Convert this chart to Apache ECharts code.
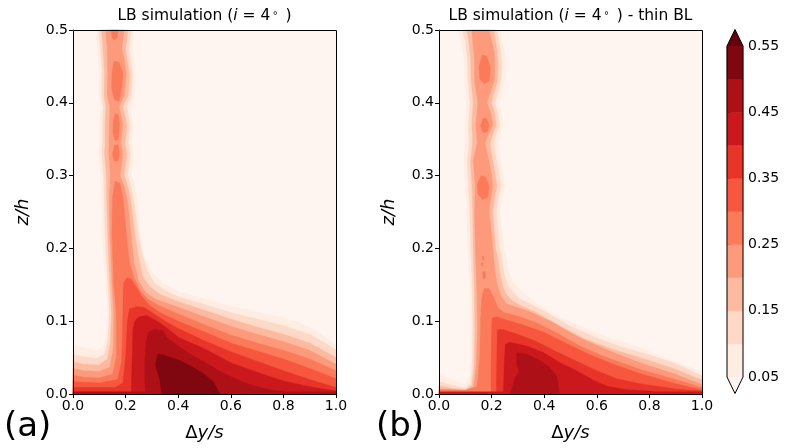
<!DOCTYPE html>
<html><head><meta charset="utf-8">
<script src="https://cdn.jsdelivr.net/npm/echarts@6/dist/echarts.min.js"></script>
<style>html,body{margin:0;padding:0;background:#fff}#c{width:792px;height:448px}</style>
</head><body><div id="c"></div>
<script>
// contour levels (colorbar boundaries)
const levels = [0.05, 0.10, 0.15, 0.20, 0.25, 0.30, 0.35, 0.40, 0.45, 0.50, 0.55];
const cbTicks = ['0.05', '0.15', '0.25', '0.35', '0.45', '0.55'];
const xTicks = ['0.0', '0.2', '0.4', '0.6', '0.8', '1.0'];
const yTicks = ['0.0', '0.1', '0.2', '0.3', '0.4', '0.5'];
const titleA = 'LB simulation ({i|i} = 4{s|∘} )';
const titleB = 'LB simulation ({i|i} = 4{s|∘} ) - thin BL';

// ---- Panel (a): regions where value >= level k, as [Δy/s, z/h] outlines
const aL1 = [[0,0],[1,0],[1,0.066],[0.97,0.076],[0.93,0.086],[0.87,0.097],[0.8,0.105],[0.7,0.113],[0.6,0.121],[0.5,0.131],[0.4,0.141],[0.34,0.152],[0.3,0.168],[0.27,0.19],[0.255,0.22],[0.25,0.25],[0.243,0.27],[0.235,0.29],[0.222,0.30],[0.228,0.315],[0.23,0.33],[0.224,0.345],[0.228,0.36],[0.228,0.37],[0.22,0.395],[0.235,0.41],[0.238,0.44],[0.232,0.46],[0.226,0.475],[0.232,0.5],[0.088,0.5],[0.092,0.475],[0.1,0.44],[0.098,0.41],[0.105,0.395],[0.1,0.37],[0.1,0.345],[0.098,0.33],[0.105,0.30],[0.108,0.27],[0.112,0.22],[0.117,0.18],[0.125,0.15],[0.13,0.11],[0.125,0.08],[0.115,0.065],[0.09,0.06],[0.05,0.063],[0,0.067]];
const aL2 = [[0,0],[1,0],[1,0.06],[0.95,0.072],[0.9,0.082],[0.8,0.094],[0.7,0.103],[0.6,0.112],[0.5,0.123],[0.4,0.134],[0.35,0.142],[0.31,0.152],[0.285,0.168],[0.265,0.19],[0.248,0.22],[0.238,0.25],[0.23,0.27],[0.22,0.285],[0.208,0.3],[0.213,0.315],[0.218,0.33],[0.21,0.345],[0.214,0.36],[0.216,0.37],[0.205,0.395],[0.222,0.41],[0.226,0.44],[0.218,0.46],[0.212,0.475],[0.222,0.5],[0.098,0.5],[0.104,0.475],[0.11,0.44],[0.108,0.41],[0.115,0.395],[0.112,0.37],[0.112,0.345],[0.11,0.33],[0.116,0.3],[0.118,0.27],[0.122,0.22],[0.127,0.18],[0.133,0.15],[0.138,0.11],[0.133,0.075],[0.12,0.055],[0.09,0.049],[0.04,0.051],[0,0.054]];
const aL3 = [[0,0],[1,0],[1,0.05],[0.9,0.07],[0.8,0.082],[0.7,0.092],[0.6,0.103],[0.5,0.115],[0.4,0.127],[0.33,0.137],[0.29,0.148],[0.265,0.162],[0.248,0.19],[0.235,0.22],[0.225,0.25],[0.218,0.27],[0.208,0.285],[0.195,0.3],[0.2,0.315],[0.205,0.33],[0.198,0.345],[0.203,0.36],[0.205,0.37],[0.19,0.395],[0.21,0.41],[0.215,0.44],[0.205,0.46],[0.2,0.475],[0.21,0.5],[0.108,0.5],[0.114,0.475],[0.12,0.44],[0.118,0.41],[0.125,0.395],[0.122,0.37],[0.122,0.345],[0.12,0.33],[0.127,0.3],[0.128,0.27],[0.132,0.22],[0.136,0.18],[0.14,0.15],[0.146,0.11],[0.142,0.07],[0.13,0.048],[0.1,0.04],[0.04,0.041],[0,0.044]];
const aL4 = [[0,0],[1,0],[1,0.041],[0.9,0.06],[0.8,0.072],[0.7,0.082],[0.6,0.093],[0.5,0.106],[0.4,0.119],[0.31,0.131],[0.275,0.14],[0.25,0.155],[0.232,0.18],[0.22,0.22],[0.212,0.25],[0.205,0.27],[0.195,0.285],[0.178,0.3],[0.185,0.315],[0.19,0.33],[0.182,0.345],[0.187,0.36],[0.19,0.37],[0.175,0.395],[0.195,0.41],[0.203,0.44],[0.195,0.46],[0.185,0.475],[0.195,0.5],[0.124,0.5],[0.13,0.475],[0.132,0.44],[0.13,0.41],[0.14,0.395],[0.138,0.37],[0.137,0.345],[0.136,0.33],[0.142,0.3],[0.138,0.27],[0.14,0.22],[0.145,0.18],[0.148,0.15],[0.155,0.11],[0.152,0.06],[0.14,0.037],[0.1,0.031],[0.04,0.032],[0,0.035]];
const aL5 = [[0,0],[1,0],[1,0.032],[0.9,0.048],[0.8,0.06],[0.7,0.07],[0.6,0.081],[0.5,0.095],[0.4,0.11],[0.33,0.121],[0.285,0.13],[0.255,0.142],[0.232,0.16],[0.215,0.18],[0.205,0.21],[0.198,0.24],[0.19,0.27],[0.178,0.29],[0.16,0.292],[0.15,0.27],[0.148,0.22],[0.152,0.18],[0.155,0.15],[0.165,0.11],[0.165,0.05],[0.15,0.027],[0.1,0.022],[0.04,0.023],[0,0.026]];
const aL5blobA = [[0.145,0.5],[0.172,0.5],[0.168,0.49],[0.158,0.486],[0.148,0.49]];
const aL5blobB = [[0.155,0.457],[0.175,0.456],[0.19,0.44],[0.185,0.42],[0.175,0.402],[0.158,0.404],[0.147,0.42],[0.148,0.44]];
const aL5blobC = [[0.16,0.385],[0.172,0.384],[0.177,0.37],[0.172,0.35],[0.16,0.348],[0.152,0.36],[0.153,0.375]];
const aL5blobD = [[0.158,0.342],[0.172,0.342],[0.177,0.33],[0.17,0.32],[0.156,0.32],[0.15,0.33]];
const aL6 = [[0,0],[1,0],[1,0.021],[0.9,0.035],[0.8,0.048],[0.7,0.059],[0.6,0.07],[0.5,0.085],[0.4,0.1],[0.33,0.112],[0.29,0.122],[0.26,0.135],[0.235,0.15],[0.22,0.158],[0.205,0.16],[0.192,0.152],[0.19,0.12],[0.188,0.08],[0.185,0.045],[0.17,0.02],[0.1,0.015],[0,0.017]];
const aL7 = [[0,0],[1,0],[1,0.009],[0.9,0.02],[0.8,0.032],[0.7,0.045],[0.6,0.058],[0.5,0.073],[0.4,0.09],[0.35,0.1],[0.3,0.112],[0.27,0.119],[0.24,0.12],[0.215,0.117],[0.207,0.1],[0.2,0.05],[0.19,0.015],[0.16,0.009],[0,0.009]];
const aL8 = [[0.222,0],[1,0],[1,0.004],[0.9,0.01],[0.8,0.018],[0.7,0.03],[0.6,0.043],[0.5,0.062],[0.4,0.078],[0.36,0.09],[0.32,0.1],[0.28,0.108],[0.25,0.106],[0.235,0.1],[0.228,0.09],[0.225,0.05],[0.222,0.01]];
const aL9 = [[0.275,0],[0.85,0],[0.8,0.003],[0.75,0.006],[0.7,0.01],[0.65,0.016],[0.6,0.024],[0.55,0.033],[0.5,0.044],[0.45,0.054],[0.4,0.066],[0.36,0.077],[0.34,0.087],[0.31,0.089],[0.286,0.085],[0.278,0.07],[0.272,0.04]];
const aWall = [[0,0],[1,0],[1,0.003],[0,0.003]];
const aL10 = [[0.337,0],[0.56,0],[0.55,0.006],[0.535,0.016],[0.5,0.027],[0.45,0.038],[0.4,0.047],[0.35,0.053],[0.322,0.055],[0.313,0.04],[0.33,0.02]];

// ---- Panel (b)
const bL1 = [[0,0],[1,0],[1,0.03],[0.93,0.04],[0.85,0.052],[0.76,0.064],[0.65,0.077],[0.55,0.091],[0.45,0.108],[0.38,0.122],[0.333,0.135],[0.3,0.146],[0.28,0.155],[0.265,0.17],[0.255,0.19],[0.248,0.2],[0.24,0.225],[0.232,0.25],[0.24,0.27],[0.25,0.285],[0.245,0.3],[0.235,0.32],[0.228,0.335],[0.225,0.345],[0.235,0.36],[0.243,0.37],[0.238,0.385],[0.228,0.4],[0.24,0.415],[0.25,0.43],[0.255,0.45],[0.25,0.47],[0.24,0.485],[0.235,0.5],[0.07,0.5],[0.085,0.485],[0.095,0.46],[0.098,0.43],[0.105,0.4],[0.1,0.37],[0.1,0.345],[0.095,0.32],[0.1,0.285],[0.105,0.25],[0.11,0.2],[0.115,0.16],[0.118,0.13],[0.12,0.09],[0.12,0.05],[0.115,0.025],[0.1,0.013],[0.05,0.02],[0,0.027]];
const bL2 = [[0,0],[1,0],[1,0.025],[0.9,0.042],[0.8,0.054],[0.7,0.064],[0.6,0.077],[0.5,0.093],[0.41,0.112],[0.34,0.125],[0.308,0.13],[0.28,0.14],[0.262,0.15],[0.248,0.165],[0.238,0.19],[0.23,0.2],[0.224,0.225],[0.218,0.25],[0.226,0.27],[0.235,0.285],[0.23,0.3],[0.22,0.32],[0.213,0.335],[0.21,0.345],[0.22,0.36],[0.23,0.37],[0.225,0.385],[0.213,0.4],[0.225,0.415],[0.235,0.43],[0.24,0.45],[0.236,0.47],[0.228,0.485],[0.222,0.5],[0.088,0.5],[0.1,0.485],[0.108,0.46],[0.11,0.43],[0.118,0.4],[0.112,0.37],[0.115,0.345],[0.108,0.32],[0.112,0.285],[0.117,0.25],[0.12,0.2],[0.125,0.16],[0.127,0.13],[0.128,0.09],[0.127,0.04],[0.12,0.015],[0.1,0.008],[0.05,0.012],[0,0.017]];
const bL3 = [[0,0],[1,0],[1,0.019],[0.9,0.034],[0.764,0.05],[0.663,0.061],[0.561,0.075],[0.46,0.093],[0.371,0.112],[0.32,0.12],[0.283,0.127],[0.26,0.135],[0.245,0.145],[0.232,0.165],[0.222,0.19],[0.215,0.2],[0.21,0.225],[0.205,0.25],[0.212,0.27],[0.22,0.285],[0.215,0.3],[0.205,0.32],[0.198,0.335],[0.195,0.345],[0.207,0.36],[0.218,0.37],[0.212,0.385],[0.2,0.4],[0.21,0.415],[0.222,0.43],[0.225,0.45],[0.222,0.47],[0.215,0.485],[0.21,0.5],[0.105,0.5],[0.113,0.485],[0.12,0.46],[0.122,0.43],[0.13,0.4],[0.125,0.37],[0.128,0.345],[0.12,0.32],[0.125,0.285],[0.128,0.25],[0.13,0.2],[0.133,0.16],[0.135,0.13],[0.136,0.09],[0.134,0.04],[0.126,0.012],[0.1,0.006],[0.05,0.008],[0,0.011]];
const bL4 = [[0,0],[1,0],[1,0.013],[0.9,0.027],[0.764,0.043],[0.65,0.059],[0.536,0.077],[0.435,0.098],[0.346,0.113],[0.29,0.12],[0.255,0.124],[0.235,0.135],[0.222,0.15],[0.212,0.17],[0.205,0.2],[0.197,0.23],[0.19,0.25],[0.198,0.27],[0.205,0.285],[0.2,0.3],[0.19,0.32],[0.18,0.335],[0.175,0.345],[0.192,0.36],[0.205,0.37],[0.198,0.385],[0.182,0.4],[0.195,0.415],[0.21,0.43],[0.212,0.45],[0.21,0.47],[0.2,0.485],[0.19,0.5],[0.125,0.5],[0.128,0.485],[0.135,0.46],[0.135,0.43],[0.148,0.4],[0.14,0.37],[0.145,0.345],[0.13,0.32],[0.138,0.285],[0.135,0.25],[0.138,0.2],[0.142,0.16],[0.145,0.13],[0.146,0.09],[0.142,0.04],[0.132,0.01],[0.1,0.005],[0,0.007]];
const bL5 = [[0,0],[1,0],[1,0.009],[0.9,0.02],[0.764,0.034],[0.625,0.052],[0.536,0.066],[0.447,0.084],[0.371,0.098],[0.308,0.106],[0.245,0.112],[0.222,0.12],[0.205,0.135],[0.19,0.145],[0.172,0.145],[0.162,0.13],[0.158,0.1],[0.155,0.05],[0.145,0.01],[0.1,0.005],[0,0.006]];
const bL5blob1 = [[0.165,0.466],[0.182,0.464],[0.196,0.447],[0.19,0.43],[0.172,0.426],[0.155,0.433],[0.152,0.45]];
const bL5blob2 = [[0.168,0.379],[0.182,0.378],[0.19,0.369],[0.183,0.36],[0.168,0.359],[0.158,0.368]];
const bL5blob3 = [[0.16,0.3],[0.178,0.298],[0.19,0.285],[0.185,0.27],[0.165,0.267],[0.148,0.275],[0.146,0.288]];
const bL5dot1 = [[0.165,0.189],[0.17,0.189],[0.17,0.184],[0.165,0.184]];
const bL5dot2 = [[0.162,0.18],[0.167,0.18],[0.167,0.176],[0.162,0.176]];
const bL5dot3 = [[0.166,0.168],[0.176,0.168],[0.178,0.16],[0.168,0.158]];
const bL6 = [[0.198,0],[1,0],[1,0.006],[0.9,0.014],[0.764,0.028],[0.663,0.041],[0.574,0.054],[0.486,0.069],[0.397,0.085],[0.308,0.096],[0.253,0.102],[0.22,0.106],[0.202,0.104],[0.2,0.08],[0.198,0.04]];
const bL7 = [[0.218,0],[1,0],[1,0.004],[0.9,0.007],[0.764,0.014],[0.676,0.021],[0.6,0.032],[0.524,0.045],[0.447,0.058],[0.371,0.072],[0.29,0.083],[0.238,0.089],[0.222,0.088],[0.22,0.05]];
const bL8 = [[0.245,0],[0.85,0],[0.8,0.004],[0.713,0.006],[0.637,0.011],[0.587,0.019],[0.524,0.032],[0.46,0.043],[0.397,0.057],[0.333,0.066],[0.27,0.071],[0.252,0.068],[0.248,0.04]];
const bWall = [[0,0],[1,0],[1,0.003],[0,0.003]];
const bL9 = [[0.27,0],[0.458,0],[0.454,0.011],[0.447,0.025],[0.422,0.036],[0.384,0.046],[0.333,0.055],[0.296,0.057],[0.294,0.043],[0.305,0.03],[0.289,0.022]];

// level index (k means value >= levels[k-1]) for each outline
const contoursA = [[1,aL1],[2,aL2],[3,aL3],[4,aL4],[5,aL5],[5,aL5blobA],[5,aL5blobB],[5,aL5blobC],[5,aL5blobD],[6,aL6],[7,aL7],[8,aL8],[9,aL9],[9,aWall],[10,aL10]];
const contoursB = [[1,bL1],[2,bL2],[3,bL3],[4,bL4],[5,bL5],[5,bL5blob1],[5,bL5blob2],[5,bL5blob3],[5,bL5dot1],[5,bL5dot2],[5,bL5dot3],[6,bL6],[7,bL7],[8,bL8],[8,bWall],[9,bL9]];

// Reds colormap: under, 10 bands, over
const colors = ['#fff5f0','#ffede4','#fed9c8','#fcbba1','#fc9a7b','#fb7a5a','#f6573e','#e83429','#cb181d','#ad1117','#800610','#67000d'];
const FONT = 'DejaVu Sans';

const chart = echarts.init(document.getElementById('c'), null, {renderer: 'canvas'});

function contourSeries(list, gi) {
  const n = list.length;
  const data = list.map((c, i) => [c[1][0][0], c[1][0][1], i]);
  data.push([0, 0, -1]); data.push([0, 0, -2]);
  return {
    type: 'custom', xAxisIndex: gi, yAxisIndex: gi, clip: false, silent: true, animation: false, z: 20,
    data: data, encode: {x: 0, y: 1},
    renderItem: function (params, api) {
      const i = params.dataIndex;
      const tl = api.coord([0, 0.5]), br = api.coord([1, 0]);
      if (i === n) {
        // plot background (values below the lowest level)
        return {type: 'rect', z2: -1, shape: {x: tl[0], y: tl[1], width: br[0] - tl[0], height: br[1] - tl[1]}, style: {fill: colors[0]}};
      }
      if (i === n + 1) {
        const x0 = Math.floor(tl[0]) + 0.5, y0 = Math.floor(tl[1]) + 0.5;
        const x1 = Math.floor(br[0]) + 0.5, y1 = Math.floor(br[1]) + 0.5;
        return {type: 'rect', z2: 1000, shape: {x: x0, y: y0, width: x1 - x0, height: y1 - y0}, style: {fill: null, stroke: '#000', lineWidth: 1}};
      }
      const c = list[i];
      const col = colors[c[0]];
      return {type: 'polygon', z2: i,
        shape: {points: c[1].map(p => api.coord(p))},
        style: {fill: col, stroke: col, lineWidth: 0.4}};
    }
  };
}

function colorbarSeries() {
  const items = [];
  for (let k = 1; k < levels.length; k++) items.push(['band', k]);
  items.push(['under', 0]); items.push(['over', 11]); items.push(['outline', -1]);
  return {
    type: 'custom', xAxisIndex: 2, yAxisIndex: 2, clip: false, silent: true, animation: false, z: 20,
    data: items.map((it, i) => [0, levels[0], i]),
    encode: {x: 0, y: 1},
    renderItem: function (params, api) {
      const it = items[params.dataIndex];
      const lo = levels[0], hi = levels[levels.length - 1];
      const bl = api.coord([0, lo]), br = api.coord([1, lo]);
      const tl = api.coord([0, hi]), tr = api.coord([1, hi]);
      const cx = (bl[0] + br[0]) / 2, tip = 16.5;
      if (it[0] === 'band') {
        const k = it[1];
        const a = api.coord([0, levels[k - 1]]), b = api.coord([1, levels[k]]);
        return {type: 'rect', z2: 1, shape: {x: a[0], y: b[1], width: b[0] - a[0], height: a[1] - b[1]},
          style: {fill: colors[k], stroke: colors[k], lineWidth: 0.5}};
      }
      if (it[0] === 'under') return {type: 'polygon', z2: 1, shape: {points: [bl, br, [cx, bl[1] + tip]]}, style: {fill: colors[0]}};
      if (it[0] === 'over') return {type: 'polygon', z2: 1, shape: {points: [tl, tr, [cx, tl[1] - tip]]}, style: {fill: colors[11]}};
      return {type: 'polygon', z2: 5, shape: {points: [bl, [cx, bl[1] + tip], br, tr, [cx, tl[1] - tip], tl]},
        style: {fill: null, stroke: '#000', lineWidth: 1}};
    }
  };
}

function xAx(gi) {
  return {type: 'value', gridIndex: gi, min: 0, max: 1, interval: 0.2,
    name: '{r|Δ}{i|y/s}', nameLocation: 'middle', nameGap: 30,
    nameTextStyle: {fontSize: 18, color: '#000', fontFamily: FONT,
      rich: {r: {fontSize: 18, fontFamily: FONT, color: '#000'}, i: {fontSize: 18, fontStyle: 'italic', fontFamily: FONT, color: '#000'}}},
    axisLine: {show: true, onZero: false, lineStyle: {color: '#000', width: 1}},
    axisTick: {show: true, length: 4, lineStyle: {color: '#000', width: 1}},
    axisLabel: {fontSize: 14, color: '#000', fontFamily: FONT, margin: 5, showMinLabel: true, showMaxLabel: true,
      formatter: v => xTicks[Math.round(v / 0.2)]},
    splitLine: {show: false}};
}
function yAx(gi) {
  return {type: 'value', gridIndex: gi, min: 0, max: 0.5, interval: 0.1,
    name: 'z/h', nameLocation: 'middle', nameGap: 41,
    nameTextStyle: {fontSize: 18, color: '#000', fontFamily: FONT, fontStyle: 'italic'},
    axisLine: {show: true, onZero: false, lineStyle: {color: '#000', width: 1}},
    axisTick: {show: true, length: 4, lineStyle: {color: '#000', width: 1}},
    axisLabel: {fontSize: 14, color: '#000', fontFamily: FONT, margin: 5, showMinLabel: true, showMaxLabel: true,
      formatter: v => yTicks[Math.round(v / 0.1)]},
    splitLine: {show: false}};
}

const titleRich = {i: {fontStyle: 'italic', fontSize: 15.5, fontFamily: FONT, fill: '#000'},
                   s: {fontSize: 10, fontFamily: FONT, verticalAlign: 'top', fill: '#000', padding: [0, 2, 0, 2]}};

chart.setOption({
  backgroundColor: '#fff',
  animation: false,
  grid: [
    {left: 73, top: 30, width: 263, height: 364, show: false},
    {left: 439, top: 30, width: 263, height: 364, show: false},
    {left: 727, top: 46, width: 16, height: 331, show: false}
  ],
  xAxis: [xAx(0), xAx(1), {type: 'value', gridIndex: 2, min: 0, max: 1, show: false}],
  yAxis: [yAx(0), yAx(1), {type: 'value', gridIndex: 2, min: 0.05, max: 0.55, interval: 0.1, position: 'right',
    axisLine: {show: false}, splitLine: {show: false},
    axisTick: {show: true, length: 4, lineStyle: {color: '#000', width: 1}},
    axisLabel: {fontSize: 14, color: '#000', fontFamily: FONT, margin: 5, showMinLabel: true, showMaxLabel: true,
      formatter: v => cbTicks[Math.round((v - 0.05) / 0.1)]}}],
  series: [contourSeries(contoursA, 0), contourSeries(contoursB, 1), colorbarSeries()],
  graphic: [
    {type: 'text', x: 204.5, y: 16, z: 10, style: {text: titleA, rich: titleRich, fontSize: 15.5, fontFamily: FONT, fill: '#000', textAlign: 'center', textVerticalAlign: 'middle'}},
    {type: 'text', x: 570.5, y: 16, z: 10, style: {text: titleB, rich: titleRich, fontSize: 15.5, fontFamily: FONT, fill: '#000', textAlign: 'center', textVerticalAlign: 'middle'}},
    {type: 'text', x: 4, y: 427, z: 10, style: {text: '(a)', fontSize: 34, fontFamily: FONT, fill: '#000', textAlign: 'left', textVerticalAlign: 'middle'}},
    {type: 'text', x: 376, y: 427, z: 10, style: {text: '(b)', fontSize: 34, fontFamily: FONT, fill: '#000', textAlign: 'left', textVerticalAlign: 'middle'}}
  ]
});
</script>
</body></html>
